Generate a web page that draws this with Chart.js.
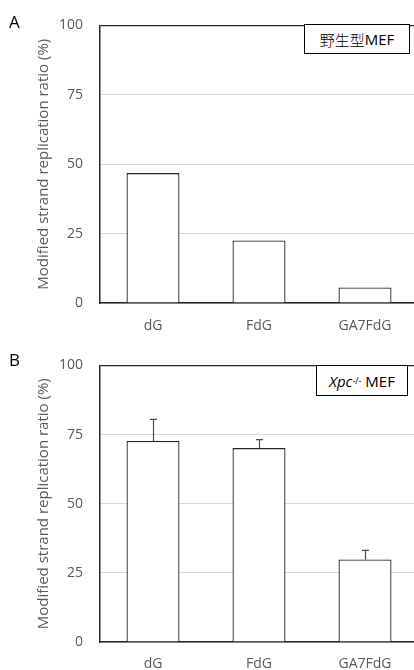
<!DOCTYPE html>
<html>
<head>
<meta charset="utf-8">
<script src="https://cdn.jsdelivr.net/npm/chart.js@4/dist/chart.umd.min.js"></script>
<style>
  html, body { margin: 0; padding: 0; background: #fff; width: 414px; height: 670px; overflow: hidden; }
  .wrap { position: absolute; left: 0; width: 420px; height: 345px; }
  canvas { display: block; }
  .panel { position: absolute; font-family: "Open Sans", sans-serif; font-size: 17px; color: #000; }
  .box { position: absolute; border: 1px solid #000; background: #fff; font-family: "Open Sans", "Noto Sans CJK JP", sans-serif; font-size: 15px; color: #000; display: flex; align-items: center; justify-content: center; box-sizing: border-box; white-space: nowrap; }
  .box sup { font-size: 9px; vertical-align: 6px; }
</style>
</head>
<body>
<div class="wrap" style="top:0"><canvas id="chartA" width="420" height="345"></canvas></div>
<div class="wrap" style="top:340px"><canvas id="chartB" width="420" height="345"></canvas></div>
<div class="panel" style="left:9px; top:10px;">A</div>
<div class="panel" style="left:9px; top:348px;">B</div>
<div class="box" style="left:304px; top:24px; width:106px; height:30px;"><span style="font-family:'Noto Sans CJK JP'; font-weight:300;">野生型</span>MEF</div>
<div class="box" style="left:316px; top:365px; width:92px; height:31px;"><i>Xpc</i><sup>-/-</sup>&nbsp;MEF</div>
<script>
const categories = ['dG', 'FdG', 'GA7FdG'];
const wildTypeValues = [46.8, 22.5, 5.6];
const xpcValues = [72.7, 70.1, 29.8];
const xpcErrors = [7.8, 3.1, 3.3];
const yMin = 0, yMax = 100, yStep = 25;
const yTitle = 'Modified strand replication ratio (%)';

const errorBarPlugin = {
  id: 'errorBars',
  afterDatasetsDraw(chart, args, opts) {
    const errs = opts.errors;
    if (!errs) return;
    const meta = chart.getDatasetMeta(0);
    const yScale = chart.scales.y;
    const ctx = chart.ctx;
    ctx.save();
    ctx.strokeStyle = '#4d4d4d';
    ctx.lineWidth = 1.2;
    meta.data.forEach((bar, i) => {
      const v = chart.data.datasets[0].data[i];
      const yTop = yScale.getPixelForValue(v + errs[i]);
      const yBase = yScale.getPixelForValue(v);
      const x = Math.round(bar.x) + 0.5;
      ctx.beginPath();
      ctx.moveTo(x, yBase);
      ctx.lineTo(x, yTop);
      ctx.moveTo(x - 3.5, yTop);
      ctx.lineTo(x + 3.5, yTop);
      ctx.stroke();
    });
    ctx.restore();
  }
};

function makeChart(id, values, errors, topPad, bottomY, xPad) {
  return new Chart(document.getElementById(id), {
    type: 'bar',
    data: {
      labels: categories,
      datasets: [{
        data: values,
        backgroundColor: '#ffffff',
        borderColor: '#262626',
        borderWidth: 1.3,
        barPercentage: 0.5,
        categoryPercentage: 1.0
      }]
    },
    options: {
      responsive: false,
      animation: false,
      layout: { padding: { top: topPad, left: 0, right: 2, bottom: 0 } },
      plugins: {
        legend: { display: false },
        tooltip: { enabled: false },
        errorBars: { errors: errors }
      },
      scales: {
        x: {
          grid: { display: false, drawTicks: false },
          border: { display: true, color: '#262626', width: 1.5 },
          ticks: { color: '#595959', font: { family: 'Open Sans', size: 14 }, padding: xPad, maxRotation: 0 },
          afterFit(scale) { scale.height = 345 - bottomY; }
        },
        y: {
          min: yMin, max: yMax,
          ticks: { stepSize: yStep, color: '#595959', font: { family: 'Open Sans', size: 14 }, padding: 17 },
          grid: {
            drawTicks: false,
            color: (c) => c.tick && c.tick.value === yMax ? '#262626' : '#d9d9d9',
            lineWidth: (c) => c.tick && c.tick.value === yMax ? 1.3 : 1
          },
          border: { display: true, color: '#262626', width: 1.5 },
          title: { display: true, text: yTitle, color: '#595959', font: { family: 'Open Sans', size: 15 }, padding: { top: 35, bottom: 0 } },
          afterFit(scale) { scale.width = 100; }
        }
      }
    },
    plugins: [errorBarPlugin]
  });
}

makeChart('chartA', wildTypeValues, null, 19, 303, 15);
makeChart('chartB', xpcValues, xpcErrors, 19.5, 302, 14);
</script>
</body>
</html>
